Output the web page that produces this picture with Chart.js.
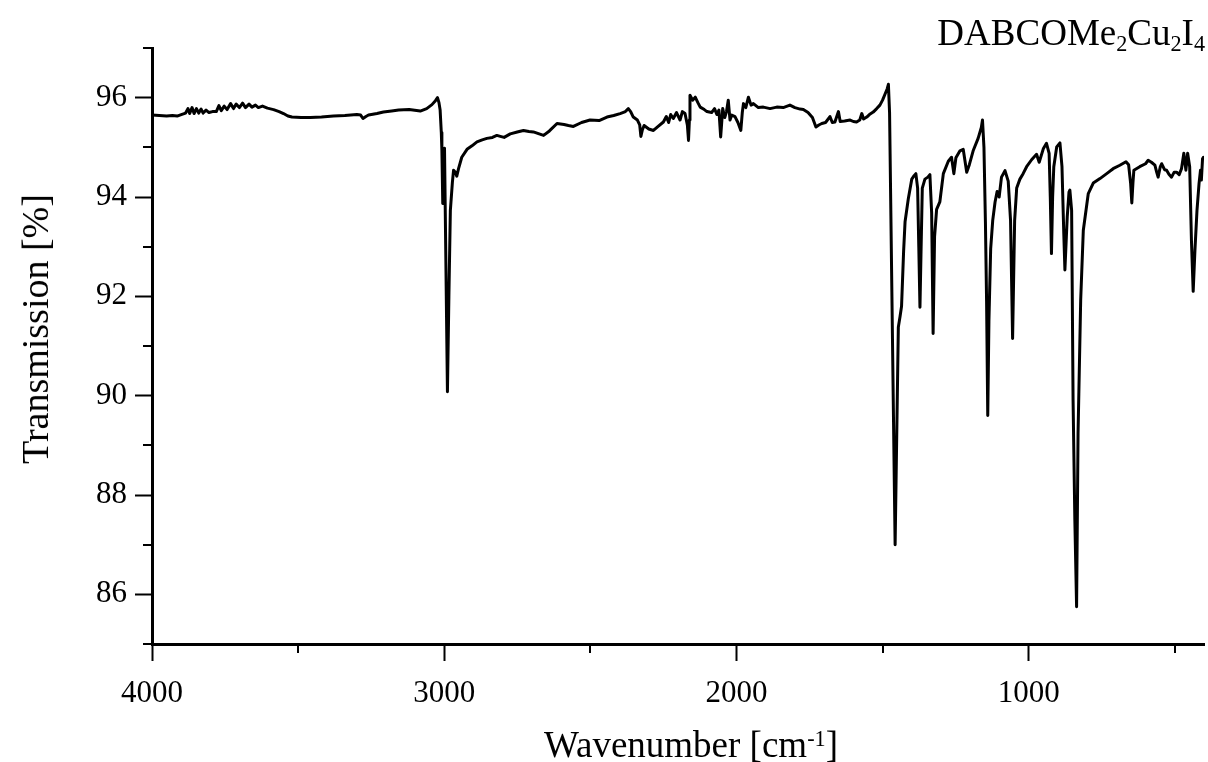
<!DOCTYPE html>
<html>
<head>
<meta charset="utf-8">
<title>DABCOMe2Cu2I4 IR spectrum</title>
<script src="https://cdn.jsdelivr.net/npm/chart.js@4.4.0/dist/chart.umd.min.js"></script>
<style>
  html, body { margin: 0; padding: 0; background: #fff; }
  #wrap { position: relative; width: 1208px; height: 762px; }
  .lbl { position: absolute; font-family: "Liberation Serif", "Times New Roman", serif; color: #000; line-height: 1; white-space: nowrap; }
  #title { right: 3px; top: 14px; font-size: 37px; }
  #xtitle { left: 691px; top: 726px; font-size: 37px; transform: translateX(-50%); }
  #ytitle { left: 35px; top: 329px; font-size: 38px; transform: translate(-50%, -50%) rotate(-90deg); }
  sub { font-size: 60%; vertical-align: -0.28em; line-height: 0; }
  sup { font-size: 60%; vertical-align: 0.5em; line-height: 0; }
</style>
</head>
<body>
<div id="wrap">
  <canvas id="irChart" width="1208" height="762"></canvas>
  <div class="lbl" id="title">DABCOMe<sub>2</sub>Cu<sub>2</sub>I<sub>4</sub></div>
  <div class="lbl" id="xtitle">Wavenumber [cm<sup>-1</sup>]</div>
  <div class="lbl" id="ytitle">Transmission [%]</div>
</div>
<script>
// spectrum (cm-1, %)
const wavenumbers = [
  4000, 3975, 3950, 3930, 3914, 3900, 3885, 3877, 3871, 3863, 3856, 3848, 3840, 3832, 3825, 3815, 3805, 3793,
  3780, 3771, 3763, 3753, 3743, 3731, 3721, 3712, 3701, 3690, 3680, 3668, 3658, 3646, 3636, 3622, 3605, 3584,
  3565, 3550, 3535, 3521, 3490, 3458, 3420, 3379, 3340, 3299, 3286, 3278, 3268, 3259, 3230, 3208, 3180, 3156,
  3120, 3082, 3060, 3042, 3030, 3023, 3018, 3014, 3010, 3008, 3005, 3002, 2999, 2989, 2984, 2979, 2972, 2968,
  2962, 2957, 2951, 2940, 2922, 2905, 2888, 2870, 2854, 2835, 2820, 2808, 2795, 2774, 2750, 2729, 2710, 2695,
  2675, 2660, 2640, 2614, 2590, 2575, 2558, 2530, 2501, 2470, 2443, 2420, 2398, 2380, 2370, 2362, 2353, 2339,
  2331, 2327, 2322, 2316, 2300, 2284, 2268, 2250, 2240, 2232, 2225, 2216, 2205, 2193, 2185, 2176, 2168, 2164,
  2161, 2159, 2150, 2141, 2132, 2124, 2110, 2101, 2085, 2075, 2067, 2060, 2054, 2047, 2040, 2034, 2028, 2022,
  2016, 2005, 1995, 1985, 1980, 1976, 1968, 1959, 1950, 1942, 1925, 1908, 1885, 1862, 1840, 1817, 1800, 1782,
  1771, 1755, 1740, 1728, 1718, 1708, 1695, 1680, 1672, 1663, 1651, 1645, 1630, 1611, 1600, 1589, 1578, 1571,
  1565, 1554, 1545, 1532, 1520, 1509, 1500, 1491, 1484, 1480, 1476, 1457, 1446, 1440, 1435, 1428, 1423, 1412,
  1400, 1392, 1386, 1380, 1376, 1372, 1368, 1364, 1355, 1345, 1338, 1332, 1327, 1322, 1315, 1304, 1292, 1275,
  1264, 1256, 1249, 1235, 1224, 1212, 1203, 1190, 1173, 1162, 1158, 1153, 1148, 1144, 1140, 1136, 1130, 1123,
  1115, 1108, 1101, 1093, 1081, 1070, 1062, 1055, 1048, 1041, 1030, 1019, 1007, 990, 973, 964, 950, 939,
  930, 926, 922, 918, 914, 904, 893, 886, 880, 876, 871, 868, 862, 859, 853, 848, 842, 836,
  831, 822, 813, 796, 779, 756, 733, 711, 688, 667, 658, 651, 647, 643, 640, 620, 600, 591,
  580, 568, 562, 557, 550, 545, 535, 528, 520, 511, 502, 494, 485, 477, 469, 462, 456, 449,
  443, 437, 431, 424, 417, 412, 409, 405, 402
];
const transmission = [
  95.65, 95.64, 95.63, 95.64, 95.63, 95.66, 95.69, 95.78, 95.68, 95.80, 95.68, 95.78, 95.69, 95.77, 95.69, 95.75, 95.70, 95.72,
  95.72, 95.84, 95.74, 95.83, 95.76, 95.88, 95.78, 95.87, 95.80, 95.89, 95.80, 95.87, 95.81, 95.85, 95.80, 95.83, 95.79, 95.76,
  95.72, 95.68, 95.63, 95.61, 95.60, 95.60, 95.61, 95.63, 95.64, 95.66, 95.65, 95.58, 95.62, 95.65, 95.68, 95.71, 95.73, 95.75,
  95.76, 95.73, 95.78, 95.86, 95.94, 96.00, 95.90, 95.75, 95.30, 94.94, 93.87, 94.90, 94.98, 90.08, 92.00, 93.73, 94.30, 94.54,
  94.50, 94.42, 94.57, 94.80, 94.96, 95.03, 95.11, 95.15, 95.18, 95.20, 95.24, 95.22, 95.20, 95.27, 95.31, 95.34, 95.32, 95.31,
  95.27, 95.24, 95.33, 95.48, 95.46, 95.44, 95.42, 95.50, 95.55, 95.54, 95.61, 95.64, 95.68, 95.72, 95.78, 95.72, 95.61, 95.55,
  95.45, 95.22, 95.35, 95.44, 95.37, 95.34, 95.42, 95.51, 95.62, 95.50, 95.66, 95.58, 95.70, 95.55, 95.72, 95.68, 95.45, 95.14,
  95.55, 96.05, 95.95, 96.01, 95.90, 95.81, 95.76, 95.72, 95.70, 95.78, 95.66, 95.75, 95.21, 95.78, 95.60, 95.72, 95.95, 95.55,
  95.65, 95.62, 95.50, 95.34, 95.70, 95.88, 95.80, 96.01, 95.85, 95.88, 95.80, 95.81, 95.78, 95.81, 95.80, 95.85, 95.80, 95.77,
  95.76, 95.70, 95.60, 95.41, 95.45, 95.48, 95.50, 95.62, 95.50, 95.51, 95.72, 95.52, 95.53, 95.55, 95.52, 95.51, 95.55, 95.68,
  95.57, 95.61, 95.66, 95.71, 95.78, 95.85, 95.95, 96.08, 96.18, 96.27, 95.70, 87.00, 91.38, 91.60, 91.80, 92.90, 93.50, 93.96,
  94.36, 94.43, 94.47, 94.18, 93.00, 91.78, 93.00, 94.18, 94.36, 94.40, 94.45, 93.68, 91.25, 93.20, 93.75, 93.90, 94.47, 94.72,
  94.80, 94.47, 94.79, 94.93, 94.96, 94.50, 94.65, 94.93, 95.18, 95.40, 95.55, 95.00, 93.50, 91.90, 89.60, 91.50, 92.96, 93.53,
  93.90, 94.11, 94.00, 94.40, 94.53, 94.32, 93.53, 91.15, 93.53, 94.18, 94.36, 94.47, 94.61, 94.75, 94.86, 94.70, 94.97, 95.08,
  94.88, 94.00, 92.86, 94.00, 94.61, 95.01, 95.09, 94.61, 93.30, 92.53, 93.20, 93.60, 94.10, 94.14, 93.73, 89.90, 87.50, 85.75,
  89.24, 91.92, 93.33, 94.07, 94.28, 94.37, 94.47, 94.57, 94.64, 94.71, 94.65, 94.27, 93.88, 94.30, 94.54, 94.61, 94.67, 94.74,
  94.70, 94.64, 94.50, 94.40, 94.60, 94.67, 94.55, 94.54, 94.46, 94.40, 94.50, 94.50, 94.45, 94.57, 94.88, 94.54, 94.88, 94.61,
  93.13, 92.10, 92.93, 93.73, 94.27, 94.54, 94.34, 94.77, 94.80
];

const xTickValues = [4000, 3000, 2000, 1000];
const xMinorTicks = [3500, 2500, 1500, 500];
const yTickValues = [86, 88, 90, 92, 94, 96];
const yMinorTicks = [97, 95, 93, 91, 89, 87, 85];

const serif = '"Liberation Serif", "Times New Roman", serif';
const points = wavenumbers.map((w, i) => ({ x: w, y: transmission[i] }));

// short unlabelled ticks between the labelled ones
const minorTicks = {
  id: 'minorTicks',
  afterDraw(chart) {
    const ctx = chart.ctx;
    const area = chart.chartArea;
    const xs = chart.scales.x, ys = chart.scales.y;
    ctx.save();
    ctx.strokeStyle = '#000';
    ctx.lineWidth = 2;
    ctx.beginPath();
    xMinorTicks.forEach(v => {
      const px = Math.round(xs.getPixelForValue(v));
      ctx.moveTo(px, area.bottom);
      ctx.lineTo(px, area.bottom + 9);
    });
    yMinorTicks.forEach(v => {
      const py = Math.round(ys.getPixelForValue(v));
      ctx.moveTo(area.left, py);
      ctx.lineTo(area.left - 9, py);
    });
    ctx.stroke();
    ctx.restore();
  }
};

new Chart(document.getElementById('irChart'), {
  type: 'line',
  data: {
    datasets: [{
      data: points,
      borderColor: '#000',
      borderWidth: 3,
      borderJoinStyle: 'round',
      borderCapStyle: 'round',
      pointRadius: 0,
      tension: 0,
      fill: false
    }]
  },
  options: {
    responsive: false,
    animation: false,
    devicePixelRatio: 1,
    layout: { padding: { left: 0, right: 4, top: 48, bottom: 0 } },
    plugins: {
      legend: { display: false },
      tooltip: { enabled: false },
      title: { display: false }
    },
    scales: {
      x: {
        type: 'linear',
        reverse: true,
        min: 400,
        max: 4000,
        afterFit(scale) { scale.height = 118; },
        afterBuildTicks(scale) { scale.ticks = xTickValues.map(v => ({ value: v })); },
        border: { color: '#000', width: 3 },
        grid: { drawOnChartArea: false, drawTicks: true, tickLength: 17, tickWidth: 2, tickColor: '#000' },
        ticks: {
          color: '#000',
          font: { family: serif, size: 31 },
          padding: 14,
          maxRotation: 0,
          autoSkip: false,
          callback: v => String(v)
        }
      },
      y: {
        min: 85,
        max: 97,
        afterFit(scale) { scale.width = 152; },
        afterBuildTicks(scale) { scale.ticks = yTickValues.map(v => ({ value: v })); },
        border: { color: '#000', width: 3 },
        grid: { drawOnChartArea: false, drawTicks: true, tickLength: 17, tickWidth: 2, tickColor: '#000' },
        ticks: {
          color: '#000',
          font: { family: serif, size: 31 },
          padding: 8,
          autoSkip: false,
          callback: v => String(v)
        }
      }
    }
  },
  plugins: [minorTicks]
});
</script>
</body>
</html>
